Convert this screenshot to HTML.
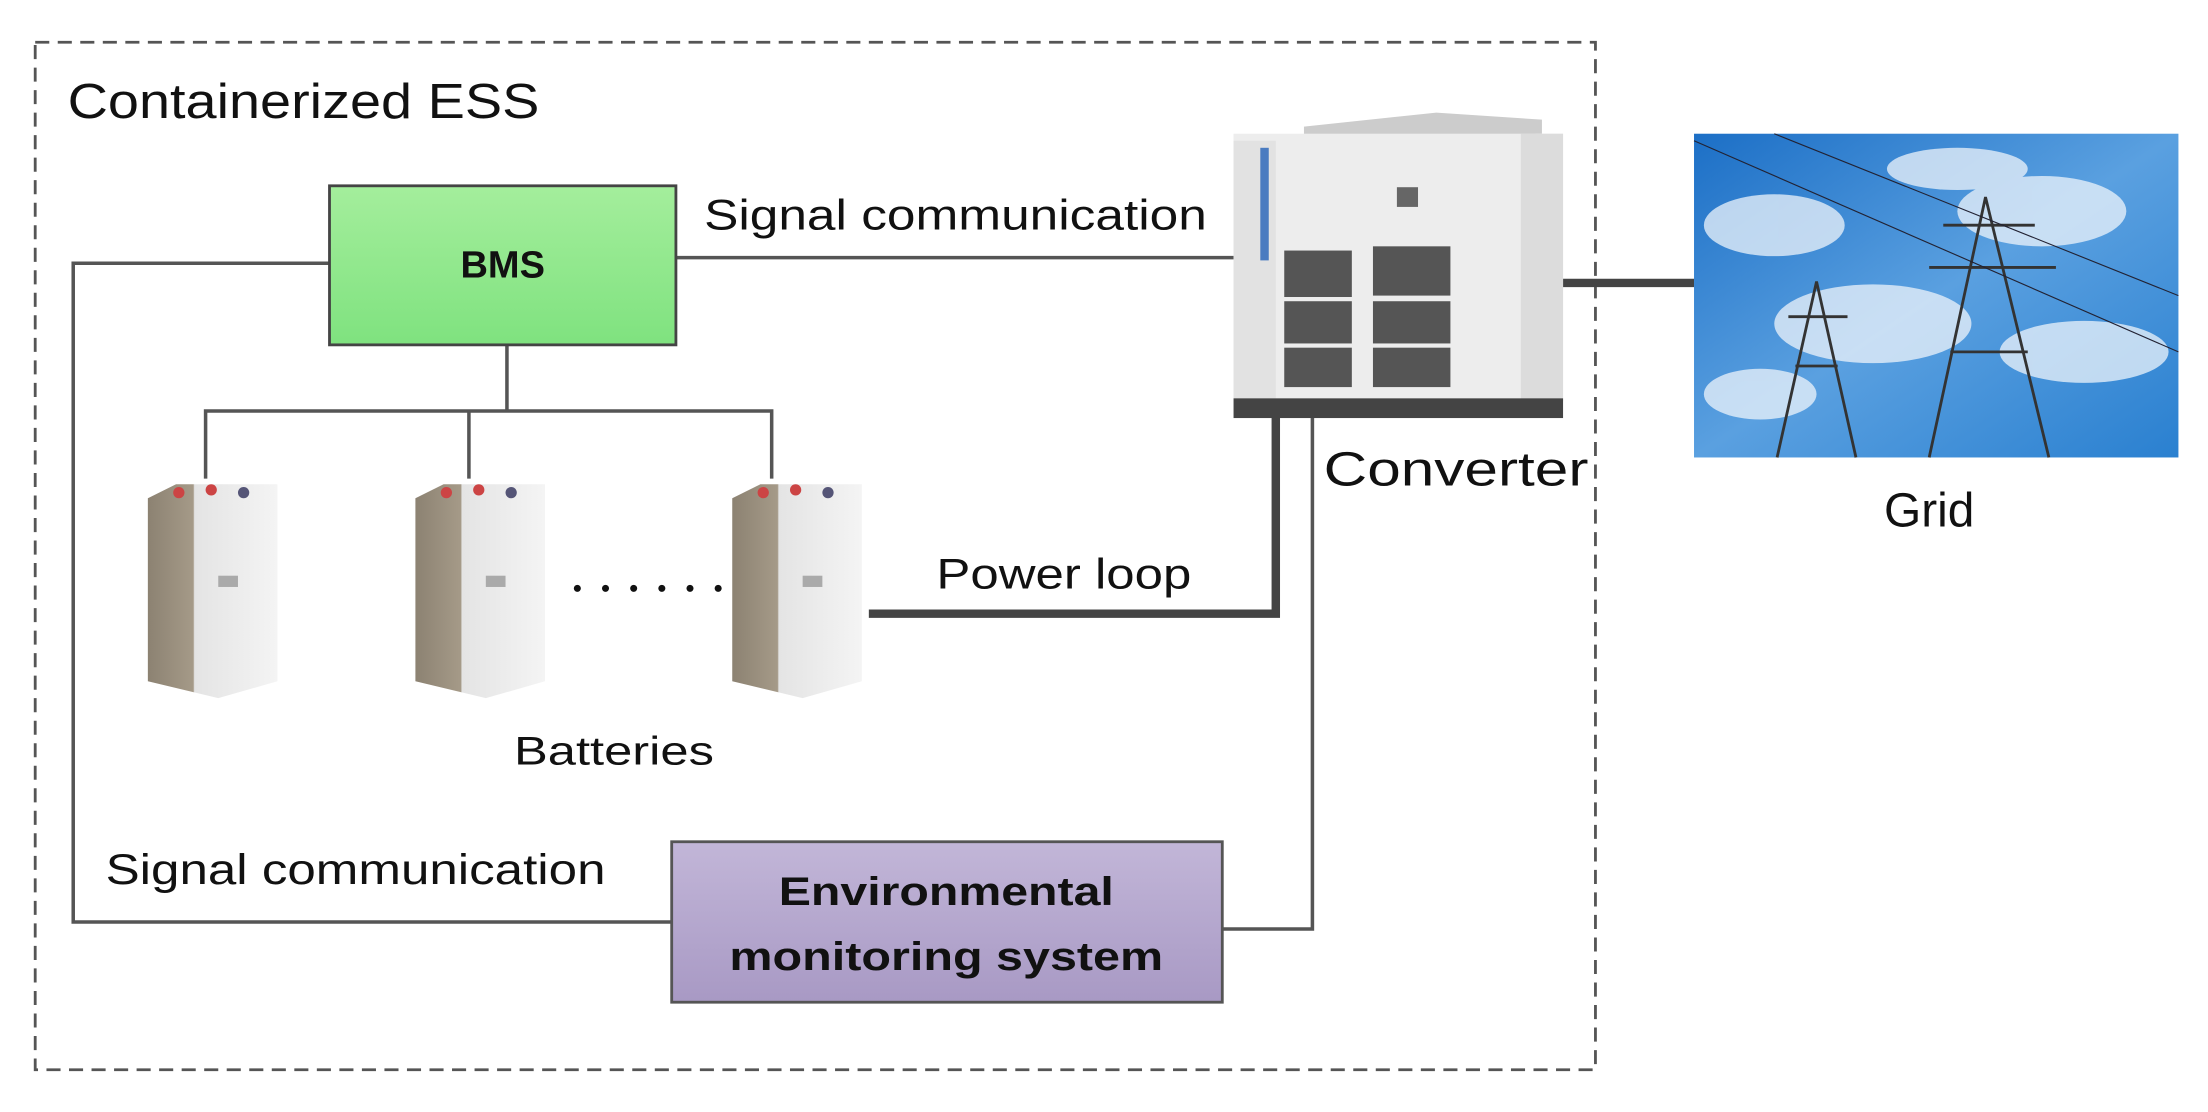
<!DOCTYPE html>
<html><head><meta charset="utf-8"><style>
html,body{margin:0;padding:0;background:#fff;}
svg{display:block;}
text{font-family:"Liberation Sans",sans-serif;fill:#111;}
</style></head><body>
<svg width="2208" height="1112" viewBox="0 0 1568 790" preserveAspectRatio="none">
<defs>
<linearGradient id="gG" x1="0" y1="0" x2="0" y2="1"><stop offset="0" stop-color="#a4ee9c"/><stop offset="1" stop-color="#7fe27f"/></linearGradient>
<linearGradient id="gP" x1="0" y1="0" x2="0" y2="1"><stop offset="0" stop-color="#c2b6d8"/><stop offset="1" stop-color="#a899c4"/></linearGradient>
<linearGradient id="sky" x1="0" y1="0" x2="1" y2="1"><stop offset="0" stop-color="#1c6fc6"/><stop offset="0.5" stop-color="#5aa0e0"/><stop offset="1" stop-color="#2a80d0"/></linearGradient>
<linearGradient id="bat" x1="0" y1="0" x2="1" y2="0"><stop offset="0" stop-color="#8c8272"/><stop offset="0.35" stop-color="#a59a88"/><stop offset="0.36" stop-color="#e4e4e4"/><stop offset="1" stop-color="#f4f4f4"/></linearGradient>
<g id="b">
<polygon points="0,10 20,0 92,0 92,140 50,152 0,140" fill="url(#bat)"/>
<circle cx="22" cy="6" r="4" fill="#c44"/><circle cx="45" cy="4" r="4" fill="#c44"/><circle cx="68" cy="6" r="4" fill="#557"/>
<rect x="50" y="65" width="14" height="8" fill="#aaa"/>
</g>
</defs>
<rect x="25" y="30" width="1108" height="730" fill="none" stroke="#555" stroke-width="2" stroke-dasharray="10,6"/>
<text x="48" y="84" font-size="35" textLength="335" lengthAdjust="spacingAndGlyphs">Containerized ESS</text>

<!-- connectors -->
<g stroke="#555" stroke-width="2.5" fill="none">
<polyline points="234,187 52,187 52,655 477,655"/>
<line x1="480" y1="183" x2="876" y2="183"/>
<line x1="360" y1="245" x2="360" y2="292"/>
<polyline points="146,340 146,292 548,292 548,340"/>
<line x1="333" y1="292" x2="333" y2="340"/>
<polyline points="932,295 932,660 868,660"/>
</g>
<polyline points="617,436 906,436 906,295" stroke="#444" stroke-width="6" fill="none"/>
<line x1="1095" y1="201" x2="1203" y2="201" stroke="#444" stroke-width="6"/>

<rect x="234" y="132" width="246" height="113" fill="url(#gG)" stroke="#444" stroke-width="2"/>
<text x="357" y="197" font-size="27" font-weight="bold" text-anchor="middle">BMS</text>
<text x="500" y="163" font-size="30" textLength="357" lengthAdjust="spacingAndGlyphs">Signal communication</text>

<use href="#b" x="105" y="344"/><use href="#b" x="295" y="344"/><use href="#b" x="520" y="344"/>
<g fill="#111"><circle cx="410" cy="418" r="2.5"/><circle cx="430" cy="418" r="2.5"/><circle cx="450" cy="418" r="2.5"/><circle cx="470" cy="418" r="2.5"/><circle cx="490" cy="418" r="2.5"/><circle cx="510" cy="418" r="2.5"/></g>
<text x="365" y="543" font-size="28" textLength="142" lengthAdjust="spacingAndGlyphs">Batteries</text>
<text x="665" y="418" font-size="30" textLength="181" lengthAdjust="spacingAndGlyphs">Power loop</text>
<text x="75" y="628" font-size="30" textLength="355" lengthAdjust="spacingAndGlyphs">Signal communication</text>

<rect x="477" y="598" width="391" height="114" fill="url(#gP)" stroke="#555" stroke-width="2"/>
<text x="672" y="643" font-size="28" font-weight="bold" text-anchor="middle" textLength="238" lengthAdjust="spacingAndGlyphs">Environmental</text>
<text x="672" y="689" font-size="28" font-weight="bold" text-anchor="middle" textLength="308" lengthAdjust="spacingAndGlyphs">monitoring system</text>

<!-- converter -->
<polygon points="926,90 1020,80 1095,85 1095,95 926,100" fill="#ccc"/>
<rect x="876" y="95" width="234" height="190" fill="#ededed"/>
<rect x="876" y="100" width="30" height="185" fill="#e2e2e2"/>
<rect x="895" y="105" width="6" height="80" fill="#4a7bc0"/>
<rect x="1080" y="95" width="30" height="190" fill="#dcdcdc"/>
<g fill="#555"><rect x="912" y="178" width="48" height="33"/><rect x="912" y="214" width="48" height="30"/><rect x="912" y="247" width="48" height="28"/><rect x="975" y="175" width="55" height="35"/><rect x="975" y="214" width="55" height="30"/><rect x="975" y="247" width="55" height="28"/></g>
<rect x="992" y="133" width="15" height="14" fill="#666"/>
<rect x="876" y="283" width="234" height="14" fill="#444"/>
<text x="940" y="345" font-size="34" textLength="188" lengthAdjust="spacingAndGlyphs">Converter</text>

<!-- grid -->
<rect x="1203" y="95" width="344" height="230" fill="url(#sky)"/>
<g fill="#eef4fb" opacity="0.75"><ellipse cx="1260" cy="160" rx="50" ry="22"/><ellipse cx="1330" cy="230" rx="70" ry="28"/><ellipse cx="1450" cy="150" rx="60" ry="25"/><ellipse cx="1480" cy="250" rx="60" ry="22"/><ellipse cx="1250" cy="280" rx="40" ry="18"/><ellipse cx="1390" cy="120" rx="50" ry="15"/></g>
<g stroke="#333" stroke-width="2" fill="none">
<polyline points="1262,325 1290,200 1318,325"/><line x1="1275" y1="260" x2="1305" y2="260"/><line x1="1270" y1="225" x2="1312" y2="225"/>
<polyline points="1370,325 1410,140 1455,325"/><line x1="1385" y1="250" x2="1440" y2="250"/><line x1="1370" y1="190" x2="1460" y2="190"/><line x1="1380" y1="160" x2="1445" y2="160"/>
</g>
<g stroke="#223" stroke-width="0.8"><line x1="1203" y1="100" x2="1547" y2="250"/><line x1="1260" y1="95" x2="1547" y2="210"/></g>
<text x="1370" y="374" font-size="34" text-anchor="middle">Grid</text>
</svg>
</body></html>
